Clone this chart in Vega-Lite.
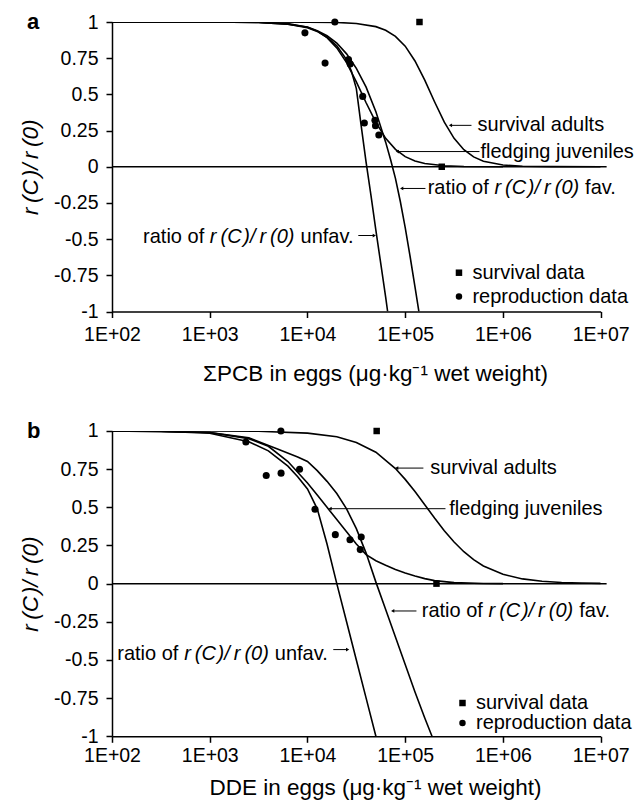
{
  "$schema": "https://vega.github.io/schema/vega-lite/v6.json",
  "background": "white",
  "padding": {"left": 19, "top": 11, "right": 2, "bottom": 2},
  "bounds": "flush",
  "spacing": 119,
  "config": {
    "font": "Liberation Sans",
    "view": {"stroke": null},
    "axis": {"grid": false, "domainColor": "black", "domainWidth": 1.5, "tickColor": "black", "tickWidth": 1.5, "tickSize": 6, "labelColor": "black", "labelFont": "Liberation Sans", "labelFontSize": 19.5, "titleFont": "Liberation Sans", "titleFontSize": 22.5, "titleFontWeight": "normal", "titleColor": "black", "labelFlush": false, "labelOverlap": false},
    "title": {"font": "Liberation Sans", "fontSize": 22, "fontWeight": "bold", "color": "black", "anchor": "start", "frame": "group", "offset": 0, "baseline": "alphabetic"}
  },
  "datasets": {
    "zero": [
      {"p": "a", "x": 100, "x2": 11500000, "y": 0},
      {"p": "b", "x": 100, "x2": 11500000, "y": 0}
    ],
    "curves": [
      {"p": "a", "s": "surv", "x": 100, "y": 1},
      {"p": "a", "s": "surv", "x": 1000, "y": 1},
      {"p": "a", "s": "surv", "x": 3162, "y": 1},
      {"p": "a", "s": "surv", "x": 10000, "y": 0.9995},
      {"p": "a", "s": "surv", "x": 19953, "y": 0.997},
      {"p": "a", "s": "surv", "x": 31623, "y": 0.99},
      {"p": "a", "s": "surv", "x": 50119, "y": 0.968},
      {"p": "a", "s": "surv", "x": 63096, "y": 0.943},
      {"p": "a", "s": "surv", "x": 79433, "y": 0.901},
      {"p": "a", "s": "surv", "x": 100000, "y": 0.833},
      {"p": "a", "s": "surv", "x": 125893, "y": 0.731},
      {"p": "a", "s": "surv", "x": 158489, "y": 0.598},
      {"p": "a", "s": "surv", "x": 199526, "y": 0.449},
      {"p": "a", "s": "surv", "x": 251189, "y": 0.308},
      {"p": "a", "s": "surv", "x": 316228, "y": 0.196},
      {"p": "a", "s": "surv", "x": 398107, "y": 0.118},
      {"p": "a", "s": "surv", "x": 501187, "y": 0.068},
      {"p": "a", "s": "surv", "x": 630957, "y": 0.038},
      {"p": "a", "s": "surv", "x": 1000000, "y": 0.012},
      {"p": "a", "s": "surv", "x": 1584893, "y": 0.004},
      {"p": "a", "s": "surv", "x": 3162278, "y": 0.0006},
      {"p": "a", "s": "surv", "x": 10000000, "y": 0},
      {"p": "a", "s": "fled", "x": 100, "y": 1},
      {"p": "a", "s": "fled", "x": 1000, "y": 1},
      {"p": "a", "s": "fled", "x": 3162, "y": 0.998},
      {"p": "a", "s": "fled", "x": 6310, "y": 0.989},
      {"p": "a", "s": "fled", "x": 10000, "y": 0.964},
      {"p": "a", "s": "fled", "x": 12589, "y": 0.937},
      {"p": "a", "s": "fled", "x": 15849, "y": 0.892},
      {"p": "a", "s": "fled", "x": 19953, "y": 0.821},
      {"p": "a", "s": "fled", "x": 25119, "y": 0.719},
      {"p": "a", "s": "fled", "x": 31623, "y": 0.587},
      {"p": "a", "s": "fled", "x": 39811, "y": 0.442},
      {"p": "a", "s": "fled", "x": 50119, "y": 0.306},
      {"p": "a", "s": "fled", "x": 63096, "y": 0.196},
      {"p": "a", "s": "fled", "x": 79433, "y": 0.12},
      {"p": "a", "s": "fled", "x": 100000, "y": 0.07},
      {"p": "a", "s": "fled", "x": 125893, "y": 0.04},
      {"p": "a", "s": "fled", "x": 158489, "y": 0.023},
      {"p": "a", "s": "fled", "x": 251189, "y": 0.007},
      {"p": "a", "s": "fled", "x": 398107, "y": 0.002},
      {"p": "a", "s": "fled", "x": 1000000, "y": 0},
      {"p": "a", "s": "unfav", "x": 100, "y": 1},
      {"p": "a", "s": "unfav", "x": 1000, "y": 1},
      {"p": "a", "s": "unfav", "x": 3162, "y": 0.997},
      {"p": "a", "s": "unfav", "x": 6310, "y": 0.985},
      {"p": "a", "s": "unfav", "x": 10000, "y": 0.96},
      {"p": "a", "s": "unfav", "x": 12589, "y": 0.935},
      {"p": "a", "s": "unfav", "x": 15849, "y": 0.895},
      {"p": "a", "s": "unfav", "x": 19953, "y": 0.835},
      {"p": "a", "s": "unfav", "x": 25119, "y": 0.74},
      {"p": "a", "s": "unfav", "x": 28184, "y": 0.66},
      {"p": "a", "s": "unfav", "x": 31623, "y": 0.54},
      {"p": "a", "s": "unfav", "x": 35481, "y": 0.28},
      {"p": "a", "s": "unfav", "x": 39811, "y": 0.03},
      {"p": "a", "s": "unfav", "x": 44668, "y": -0.2},
      {"p": "a", "s": "unfav", "x": 50119, "y": -0.44},
      {"p": "a", "s": "unfav", "x": 56234, "y": -0.67},
      {"p": "a", "s": "unfav", "x": 63096, "y": -0.9},
      {"p": "a", "s": "unfav", "x": 66069, "y": -1.0},
      {"p": "a", "s": "fav", "x": 100, "y": 1},
      {"p": "a", "s": "fav", "x": 1000, "y": 1},
      {"p": "a", "s": "fav", "x": 3162, "y": 0.997},
      {"p": "a", "s": "fav", "x": 6310, "y": 0.985},
      {"p": "a", "s": "fav", "x": 10000, "y": 0.965},
      {"p": "a", "s": "fav", "x": 12589, "y": 0.94},
      {"p": "a", "s": "fav", "x": 15849, "y": 0.905},
      {"p": "a", "s": "fav", "x": 19953, "y": 0.855},
      {"p": "a", "s": "fav", "x": 25119, "y": 0.78},
      {"p": "a", "s": "fav", "x": 31623, "y": 0.68},
      {"p": "a", "s": "fav", "x": 39811, "y": 0.55},
      {"p": "a", "s": "fav", "x": 50119, "y": 0.38},
      {"p": "a", "s": "fav", "x": 63096, "y": 0.17},
      {"p": "a", "s": "fav", "x": 70795, "y": 0.05},
      {"p": "a", "s": "fav", "x": 79433, "y": -0.08},
      {"p": "a", "s": "fav", "x": 89125, "y": -0.24},
      {"p": "a", "s": "fav", "x": 100000, "y": -0.42},
      {"p": "a", "s": "fav", "x": 112202, "y": -0.62},
      {"p": "a", "s": "fav", "x": 125893, "y": -0.83},
      {"p": "a", "s": "fav", "x": 138038, "y": -1.0},
      {"p": "b", "s": "surv", "x": 100, "y": 1},
      {"p": "b", "s": "surv", "x": 1000, "y": 0.9996},
      {"p": "b", "s": "surv", "x": 3162, "y": 0.998},
      {"p": "b", "s": "surv", "x": 10000, "y": 0.986},
      {"p": "b", "s": "surv", "x": 19953, "y": 0.962},
      {"p": "b", "s": "surv", "x": 31623, "y": 0.925},
      {"p": "b", "s": "surv", "x": 50119, "y": 0.861},
      {"p": "b", "s": "surv", "x": 79433, "y": 0.754},
      {"p": "b", "s": "surv", "x": 100000, "y": 0.683},
      {"p": "b", "s": "surv", "x": 125893, "y": 0.603},
      {"p": "b", "s": "surv", "x": 158489, "y": 0.517},
      {"p": "b", "s": "surv", "x": 199526, "y": 0.43},
      {"p": "b", "s": "surv", "x": 251189, "y": 0.347},
      {"p": "b", "s": "surv", "x": 316228, "y": 0.273},
      {"p": "b", "s": "surv", "x": 398107, "y": 0.209},
      {"p": "b", "s": "surv", "x": 501187, "y": 0.157},
      {"p": "b", "s": "surv", "x": 630957, "y": 0.116},
      {"p": "b", "s": "surv", "x": 1000000, "y": 0.061},
      {"p": "b", "s": "surv", "x": 1584893, "y": 0.031},
      {"p": "b", "s": "surv", "x": 2511886, "y": 0.016},
      {"p": "b", "s": "surv", "x": 3981072, "y": 0.008},
      {"p": "b", "s": "surv", "x": 6309573, "y": 0.004},
      {"p": "b", "s": "surv", "x": 10000000, "y": 0.002},
      {"p": "b", "s": "fled", "x": 100, "y": 1},
      {"p": "b", "s": "fled", "x": 1000, "y": 0.99},
      {"p": "b", "s": "fled", "x": 2512, "y": 0.95},
      {"p": "b", "s": "fled", "x": 3981, "y": 0.9},
      {"p": "b", "s": "fled", "x": 6310, "y": 0.8},
      {"p": "b", "s": "fled", "x": 10000, "y": 0.66},
      {"p": "b", "s": "fled", "x": 12589, "y": 0.58},
      {"p": "b", "s": "fled", "x": 15849, "y": 0.5},
      {"p": "b", "s": "fled", "x": 19953, "y": 0.42},
      {"p": "b", "s": "fled", "x": 25119, "y": 0.34},
      {"p": "b", "s": "fled", "x": 31623, "y": 0.26},
      {"p": "b", "s": "fled", "x": 39811, "y": 0.19},
      {"p": "b", "s": "fled", "x": 50119, "y": 0.15},
      {"p": "b", "s": "fled", "x": 63096, "y": 0.12},
      {"p": "b", "s": "fled", "x": 79433, "y": 0.093},
      {"p": "b", "s": "fled", "x": 100000, "y": 0.07},
      {"p": "b", "s": "fled", "x": 125893, "y": 0.05},
      {"p": "b", "s": "fled", "x": 158489, "y": 0.033},
      {"p": "b", "s": "fled", "x": 199526, "y": 0.02},
      {"p": "b", "s": "fled", "x": 316228, "y": 0.007},
      {"p": "b", "s": "fled", "x": 630957, "y": 0.001},
      {"p": "b", "s": "fled", "x": 1000000, "y": 0},
      {"p": "b", "s": "fav", "x": 100, "y": 1},
      {"p": "b", "s": "fav", "x": 316, "y": 0.998},
      {"p": "b", "s": "fav", "x": 1000, "y": 0.99},
      {"p": "b", "s": "fav", "x": 2512, "y": 0.955},
      {"p": "b", "s": "fav", "x": 5012, "y": 0.88},
      {"p": "b", "s": "fav", "x": 7943, "y": 0.83},
      {"p": "b", "s": "fav", "x": 10000, "y": 0.8},
      {"p": "b", "s": "fav", "x": 12589, "y": 0.74},
      {"p": "b", "s": "fav", "x": 15849, "y": 0.67},
      {"p": "b", "s": "fav", "x": 19953, "y": 0.59},
      {"p": "b", "s": "fav", "x": 25119, "y": 0.49},
      {"p": "b", "s": "fav", "x": 31623, "y": 0.36},
      {"p": "b", "s": "fav", "x": 39811, "y": 0.2},
      {"p": "b", "s": "fav", "x": 50119, "y": 0.01},
      {"p": "b", "s": "fav", "x": 63096, "y": -0.17},
      {"p": "b", "s": "fav", "x": 79433, "y": -0.35},
      {"p": "b", "s": "fav", "x": 100000, "y": -0.53},
      {"p": "b", "s": "fav", "x": 125893, "y": -0.71},
      {"p": "b", "s": "fav", "x": 158489, "y": -0.88},
      {"p": "b", "s": "fav", "x": 187932, "y": -1.0},
      {"p": "b", "s": "unfav", "x": 100, "y": 1},
      {"p": "b", "s": "unfav", "x": 316, "y": 0.998},
      {"p": "b", "s": "unfav", "x": 1000, "y": 0.985},
      {"p": "b", "s": "unfav", "x": 2512, "y": 0.93},
      {"p": "b", "s": "unfav", "x": 3981, "y": 0.87},
      {"p": "b", "s": "unfav", "x": 6310, "y": 0.77},
      {"p": "b", "s": "unfav", "x": 7943, "y": 0.7},
      {"p": "b", "s": "unfav", "x": 10000, "y": 0.62},
      {"p": "b", "s": "unfav", "x": 12589, "y": 0.49},
      {"p": "b", "s": "unfav", "x": 15849, "y": 0.26},
      {"p": "b", "s": "unfav", "x": 19953, "y": 0.0},
      {"p": "b", "s": "unfav", "x": 25119, "y": -0.25},
      {"p": "b", "s": "unfav", "x": 31623, "y": -0.5},
      {"p": "b", "s": "unfav", "x": 39811, "y": -0.75},
      {"p": "b", "s": "unfav", "x": 50119, "y": -1.0}
    ],
    "repro": [
      {"p": "a", "x": 9419, "y": 0.925},
      {"p": "a", "x": 19055, "y": 1.0},
      {"p": "a", "x": 15136, "y": 0.716},
      {"p": "a", "x": 26303, "y": 0.74},
      {"p": "a", "x": 27353, "y": 0.71},
      {"p": "a", "x": 36728, "y": 0.486},
      {"p": "a", "x": 38194, "y": 0.302},
      {"p": "a", "x": 48978, "y": 0.321},
      {"p": "a", "x": 49659, "y": 0.284},
      {"p": "a", "x": 53703, "y": 0.219},
      {"p": "b", "x": 2344, "y": 0.928},
      {"p": "b", "x": 3784, "y": 0.709},
      {"p": "b", "x": 5346, "y": 1.0},
      {"p": "b", "x": 5370, "y": 0.724},
      {"p": "b", "x": 8299, "y": 0.75},
      {"p": "b", "x": 11940, "y": 0.487},
      {"p": "b", "x": 19275, "y": 0.321},
      {"p": "b", "x": 27227, "y": 0.288},
      {"p": "b", "x": 35481, "y": 0.305},
      {"p": "b", "x": 34674, "y": 0.223}
    ],
    "surv": [
      {"p": "a", "x": 139959, "y": 1.0},
      {"p": "a", "x": 236600, "y": 0},
      {"p": "b", "x": 51050, "y": 1.0},
      {"p": "b", "x": 208930, "y": 0}
    ],
    "legend": [
      {"p": "a", "x": 354813, "y": -0.732, "kind": "survival data"},
      {"p": "a", "x": 354813, "y": -0.897, "kind": "reproduction data"},
      {"p": "b", "x": 385478, "y": -0.782, "kind": "survival data"},
      {"p": "b", "x": 385478, "y": -0.913, "kind": "reproduction data"}
    ],
    "arrows": [
      {"p": "a", "x": 290402, "x2": 476431, "y": 0.286, "dir": "left"},
      {"p": "a", "x": 83176, "x2": 575440, "y": 0.105, "dir": "left"},
      {"p": "a", "x": 92045, "x2": 161065, "y": -0.15, "dir": "left"},
      {"p": "a", "x": 33113, "x2": 48306, "y": -0.475, "dir": "right"},
      {"p": "b", "x": 81846, "x2": 153462, "y": 0.757, "dir": "left"},
      {"p": "b", "x": 17022, "x2": 258226, "y": 0.491, "dir": "left"},
      {"p": "b", "x": 74473, "x2": 130317, "y": -0.179, "dir": "left"},
      {"p": "b", "x": 18365, "x2": 25763, "y": -0.432, "dir": "right"}
    ],
    "notes": [
      {"p": "a", "x": 549541, "y": 0.286, "t": "survival adults"},
      {"p": "a", "x": 588844, "y": 0.102, "t": "fledging juveniles"},
      {"p": "a", "x": 169824, "y": -0.15, "t": "ratio of"},
      {"p": "a", "x": 6930000, "y": -0.15, "t": "fav."},
      {"p": "a", "x": 208, "y": -0.484, "t": "ratio of"},
      {"p": "a", "x": 8492, "y": -0.484, "t": "unfav."},
      {"p": "b", "x": 179887, "y": 0.757, "t": "survival adults"},
      {"p": "b", "x": 281838, "y": 0.491, "t": "fledging juveniles"},
      {"p": "b", "x": 147571, "y": -0.179, "t": "ratio of"},
      {"p": "b", "x": 6040000, "y": -0.179, "t": "fav."},
      {"p": "b", "x": 113.3, "y": -0.458, "t": "ratio of"},
      {"p": "b", "x": 4634, "y": -0.458, "t": "unfav."}
    ],
    "notesItalic": [
      {"p": "a", "x": 818465, "y": -0.15, "t": "r\u2009(C\u200a)/\u2009r\u2009(0)"},
      {"p": "a", "x": 1002, "y": -0.484, "t": "r\u2009(C\u200a)/\u2009r\u2009(0)"},
      {"p": "b", "x": 711213, "y": -0.179, "t": "r\u2009(C\u200a)/\u2009r\u2009(0)"},
      {"p": "b", "x": 547, "y": -0.458, "t": "r\u2009(C\u200a)/\u2009r\u2009(0)"}
    ]
  },
  "vconcat": [
    {
      "width": 488.7,
      "height": 289.5,
      "title": {"text": "a", "dx": -85, "dy": 26},
      "resolve": {"scale": {"shape": "independent"}},
      "encoding": {
        "x": {"field": "x", "type": "quantitative", "scale": {"type": "log", "domain": [100, 10000000], "nice": false}, "axis": {"values": [100, 1000, 10000, 100000, 1000000, 10000000], "labelExpr": "'1E+0' + round(log(datum.value)/LN10)", "title": "ΣPCB in eggs (μg·kg⁻¹ wet weight)", "labelPadding": 8, "titleX": 263, "titleY": 61.5, "titleAlign": "center", "titleBaseline": "middle"}},
        "y": {"field": "y", "type": "quantitative", "scale": {"domain": [-1, 1], "nice": false, "zero": false}, "axis": {"values": [-1, -0.75, -0.5, -0.25, 0, 0.25, 0.5, 0.75, 1], "labelExpr": "'' + datum.value", "title": "r\u2009(C\u200a)/\u2009r\u2009(0)", "titleFontStyle": "italic", "labelPadding": 8, "titlePadding": 11}}
      },
      "layer": [
        {"data": {"name": "zero"}, "transform": [{"filter": "datum.p === 'a'"}], "mark": {"type": "rule", "color": "black", "strokeWidth": 1.5}, "encoding": {"x2": {"field": "x2"}}},
        {"data": {"name": "curves"}, "transform": [{"filter": "datum.p === 'a'"}], "mark": {"type": "line", "color": "black", "strokeWidth": 1.6, "clip": true}, "encoding": {"detail": {"field": "s", "type": "nominal"}}},
        {"data": {"name": "arrows"}, "transform": [{"filter": "datum.p === 'a'"}], "mark": {"type": "rule", "color": "black", "strokeWidth": 1}, "encoding": {"x2": {"field": "x2"}}},
        {"data": {"name": "arrows"}, "transform": [{"filter": "datum.p === 'a' && datum.dir === 'left'"}], "mark": {"type": "point", "shape": "triangle-left", "filled": true, "color": "black", "size": 14, "opacity": 1}},
        {"data": {"name": "arrows"}, "transform": [{"filter": "datum.p === 'a' && datum.dir === 'right'"}], "mark": {"type": "point", "shape": "triangle-right", "filled": true, "color": "black", "size": 14, "opacity": 1}, "encoding": {"x": {"field": "x2", "type": "quantitative"}}},
        {"data": {"name": "repro"}, "transform": [{"filter": "datum.p === 'a'"}], "mark": {"type": "circle", "color": "black", "size": 50, "opacity": 1}},
        {"data": {"name": "surv"}, "transform": [{"filter": "datum.p === 'a'"}], "mark": {"type": "square", "color": "black", "size": 42, "opacity": 1}},
        {"data": {"name": "legend"}, "transform": [{"filter": "datum.p === 'a'"}], "mark": {"type": "point", "filled": true, "color": "black", "size": 42, "opacity": 1}, "encoding": {"shape": {"field": "kind", "type": "nominal", "scale": {"domain": ["survival data", "reproduction data"], "range": ["square", "circle"]}, "legend": null}}},
        {"data": {"name": "legend"}, "transform": [{"filter": "datum.p === 'a'"}], "mark": {"type": "text", "align": "left", "baseline": "middle", "dx": 13.5, "fontSize": 20, "color": "black"}, "encoding": {"text": {"field": "kind"}}},
        {"data": {"name": "notes"}, "transform": [{"filter": "datum.p === 'a'"}], "mark": {"type": "text", "align": "left", "baseline": "middle", "fontSize": 20, "color": "black"}, "encoding": {"text": {"field": "t"}}},
        {"data": {"name": "notesItalic"}, "transform": [{"filter": "datum.p === 'a'"}], "mark": {"type": "text", "align": "left", "baseline": "middle", "fontSize": 20, "fontStyle": "italic", "color": "black"}, "encoding": {"text": {"field": "t"}}}
      ]
    },
    {
      "width": 488.7,
      "height": 305.3,
      "title": {"text": "b", "dx": -85, "dy": 26},
      "resolve": {"scale": {"shape": "independent"}},
      "encoding": {
        "x": {"field": "x", "type": "quantitative", "scale": {"type": "log", "domain": [100, 10000000], "nice": false}, "axis": {"values": [100, 1000, 10000, 100000, 1000000, 10000000], "labelExpr": "'1E+0' + round(log(datum.value)/LN10)", "title": "DDE in eggs (μg·kg⁻¹ wet weight)", "labelPadding": 4.5, "titleX": 263, "titleY": 51, "titleAlign": "center", "titleBaseline": "middle"}},
        "y": {"field": "y", "type": "quantitative", "scale": {"domain": [-1, 1], "nice": false, "zero": false}, "axis": {"values": [-1, -0.75, -0.5, -0.25, 0, 0.25, 0.5, 0.75, 1], "labelExpr": "'' + datum.value", "title": "r\u2009(C\u200a)/\u2009r\u2009(0)", "titleFontStyle": "italic", "labelPadding": 8, "titlePadding": 11}}
      },
      "layer": [
        {"data": {"name": "zero"}, "transform": [{"filter": "datum.p === 'b'"}], "mark": {"type": "rule", "color": "black", "strokeWidth": 1.5}, "encoding": {"x2": {"field": "x2"}}},
        {"data": {"name": "curves"}, "transform": [{"filter": "datum.p === 'b'"}], "mark": {"type": "line", "color": "black", "strokeWidth": 1.6, "clip": true}, "encoding": {"detail": {"field": "s", "type": "nominal"}}},
        {"data": {"name": "arrows"}, "transform": [{"filter": "datum.p === 'b'"}], "mark": {"type": "rule", "color": "black", "strokeWidth": 1}, "encoding": {"x2": {"field": "x2"}}},
        {"data": {"name": "arrows"}, "transform": [{"filter": "datum.p === 'b' && datum.dir === 'left'"}], "mark": {"type": "point", "shape": "triangle-left", "filled": true, "color": "black", "size": 14, "opacity": 1}},
        {"data": {"name": "arrows"}, "transform": [{"filter": "datum.p === 'b' && datum.dir === 'right'"}], "mark": {"type": "point", "shape": "triangle-right", "filled": true, "color": "black", "size": 14, "opacity": 1}, "encoding": {"x": {"field": "x2", "type": "quantitative"}}},
        {"data": {"name": "repro"}, "transform": [{"filter": "datum.p === 'b'"}], "mark": {"type": "circle", "color": "black", "size": 50, "opacity": 1}},
        {"data": {"name": "surv"}, "transform": [{"filter": "datum.p === 'b'"}], "mark": {"type": "square", "color": "black", "size": 42, "opacity": 1}},
        {"data": {"name": "legend"}, "transform": [{"filter": "datum.p === 'b'"}], "mark": {"type": "point", "filled": true, "color": "black", "size": 42, "opacity": 1}, "encoding": {"shape": {"field": "kind", "type": "nominal", "scale": {"domain": ["survival data", "reproduction data"], "range": ["square", "circle"]}, "legend": null}}},
        {"data": {"name": "legend"}, "transform": [{"filter": "datum.p === 'b'"}], "mark": {"type": "text", "align": "left", "baseline": "middle", "dx": 13.5, "fontSize": 20, "color": "black"}, "encoding": {"text": {"field": "kind"}}},
        {"data": {"name": "notes"}, "transform": [{"filter": "datum.p === 'b'"}], "mark": {"type": "text", "align": "left", "baseline": "middle", "fontSize": 20, "color": "black"}, "encoding": {"text": {"field": "t"}}},
        {"data": {"name": "notesItalic"}, "transform": [{"filter": "datum.p === 'b'"}], "mark": {"type": "text", "align": "left", "baseline": "middle", "fontSize": 20, "fontStyle": "italic", "color": "black"}, "encoding": {"text": {"field": "t"}}}
      ]
    }
  ]
}
